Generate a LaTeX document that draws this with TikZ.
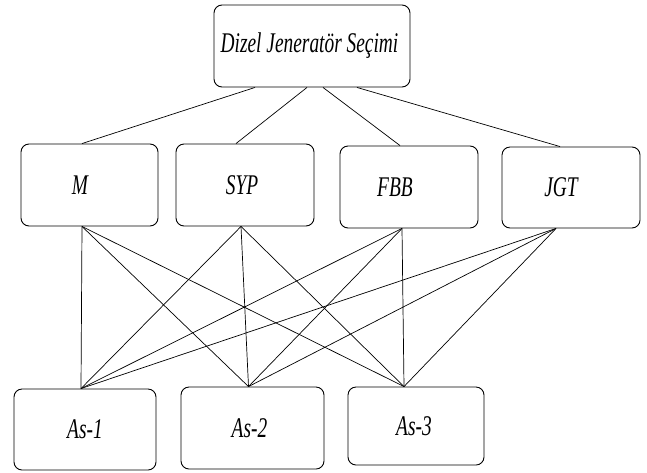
\documentclass[tikz,border=0pt]{standalone}
\usepackage{fontspec}
\setmainfont{Liberation Serif}[FakeStretch=0.68]
\usepackage{tikz}

\begin{document}
\begin{tikzpicture}[x=1pt,y=-1pt,
  kutu/.style={draw,rounded corners=8pt,line width=0.9pt,inner sep=0pt,
    minimum width=138pt,minimum height=82pt,
    font=\fontsize{28.5}{30}\selectfont\itshape},
  cizgi/.style={line width=0.7pt}]
\useasboundingbox (0,0) rectangle (647,472);

% ana hedef
\node[kutu,minimum width=196pt] (dg) at (312,46) {Dizel Jeneratör Seçimi\kern5pt};

% kriterler
\node[kutu,minimum width=137pt] (m) at (89.5,185) {M\kern19pt};
\node[kutu] (syp) at (245,185) {SYP\kern6pt};
\node[kutu] (fbb) at (409,187) {FBB\kern28pt};
\node[kutu,minimum height=81pt] (jgt) at (571,187.5) {JGT\kern20pt};

% alternatifler
\node[kutu,minimum width=142pt,minimum height=81pt] (as1) at (85,429.5) {As-1};
\node[kutu,minimum width=143pt] (as2) at (252.5,428) {As-2\kern6pt};
\node[kutu,minimum width=136pt,minimum height=78pt] (as3) at (416,426) {As-3\kern4pt};

\foreach \n/\d in {m/-7.5,syp/-4,fbb/-7,jgt/-15}
  \coordinate (\n-alt) at ([xshift=\d pt]\n.south);
\foreach \n/\d in {as1/-4,as2/-4,as3/-12}
  \coordinate (\n-ust) at ([xshift=\d pt]\n.north);

% hedef - kriter
\draw[cizgi] ([xshift=-57pt]dg.south) -- ([xshift=-7.5pt]m.north);
\draw[cizgi] ([xshift=-5pt]dg.south) -- ([xshift=-9pt]syp.north);
\draw[cizgi] ([xshift=11pt]dg.south) -- ([xshift=-9pt]fbb.north);
\draw[cizgi] ([xshift=45pt]dg.south) -- ([xshift=-11pt]jgt.north);

% kriter - alternatif
\foreach \k in {m,syp,fbb,jgt}
  \foreach \a in {as1,as2,as3}
    \draw[cizgi] (\k-alt) -- (\a-ust);

\end{tikzpicture}
\end{document}
